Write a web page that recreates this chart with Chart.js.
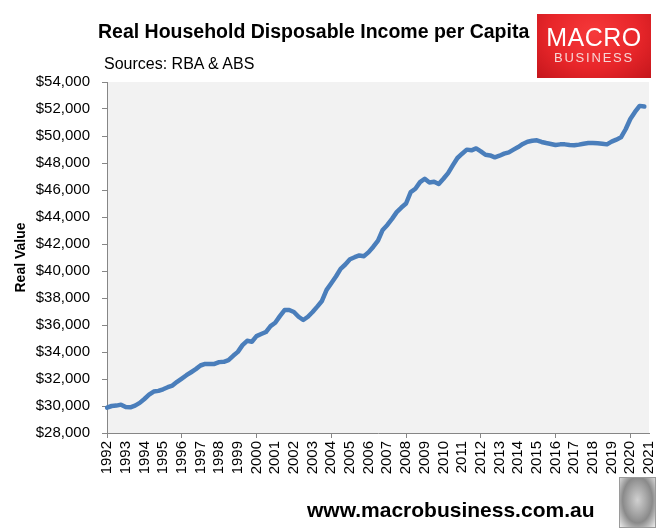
<!DOCTYPE html>
<html>
<head>
<meta charset="utf-8">
<title>Real Household Disposable Income per Capita</title>
<script src="https://cdn.jsdelivr.net/npm/chart.js@4.4.1/dist/chart.umd.min.js"></script>
<style>
  html, body { margin: 0; padding: 0; background: #fff; }
  #wrap { position: relative; width: 672px; height: 529px; overflow: hidden; font-family: "Liberation Sans", Arial, sans-serif; color: #000; }
  #chart { position: absolute; left: 0; top: 0; }
  .txt { position: absolute; white-space: nowrap; }
  #title { left: 98px; top: 22px; font-size: 19.5px; line-height: 19.5px; font-weight: bold; }
  #subtitle { left: 104px; top: 56px; font-size: 16px; line-height: 16px; }
  #footer { left: 307px; top: 499px; font-size: 21px; line-height: 21px; font-weight: bold; }
  #logo {
    position: absolute; left: 537px; top: 14px; width: 114px; height: 64px;
    background: radial-gradient(ellipse at 50% 30%, #f6393a 0%, #e8262a 55%, #c4161c 100%);
    color: #fff; text-align: center;
  }
  #logo .l1 { position: absolute; left: 0; width: 100%; top: 11px; font-family: "Liberation Sans Narrow", "Liberation Sans", sans-serif; font-size: 25px; line-height: 25px; letter-spacing: 0.5px; }
  #logo .l2 { position: absolute; left: 0; width: 100%; top: 37px; font-size: 13px; line-height: 13px; letter-spacing: 1.8px; color: #f7d6d6; }
  #wolf {
    position: absolute; left: 619px; top: 477px; width: 35px; height: 49px;
    border: 1px solid #9a9a9a;
    background: radial-gradient(ellipse at 50% 45%, #d0d0d0 0%, #a8a8a8 35%, #8a8a8a 60%, #ececec 100%);
  }
</style>
</head>
<body>
<div id="wrap">
  <canvas id="chart" width="672" height="529"></canvas>
  <div class="txt" id="title">Real Household Disposable Income per Capita</div>
  <div class="txt" id="subtitle">Sources: RBA &amp; ABS</div>
  <div id="logo"><div class="l1">MACRO</div><div class="l2">BUSINESS</div></div>
  <div class="txt" id="footer">www.macrobusiness.com.au</div>
  <div id="wolf"></div>
</div>
<script>
// years shown on the axis (quarterly data, Mar-1992 .. Dec-2020)
const years = [1992, 1993, 1994, 1995, 1996, 1997, 1998, 1999, 2000, 2001,
               2002, 2003, 2004, 2005, 2006, 2007, 2008, 2009, 2010, 2011,
               2012, 2013, 2014, 2015, 2016, 2017, 2018, 2019, 2020, 2021];
const quarterMonths = ["Mar", "Jun", "Sep", "Dec"];

// real household disposable income per capita, one value per quarter
const incomeValues = [
  29880, 30000, 30030, 30100,   // 1992
  29930, 29900, 30030, 30230,   // 1993
  30520, 30840, 31070, 31120,   // 1994
  31240, 31390, 31510, 31790,   // 1995
  32030, 32280, 32500, 32730,   // 1996
  33000, 33120, 33120, 33120,   // 1997
  33250, 33270, 33400, 33720,   // 1998
  34010, 34510, 34830, 34760,   // 1999
  35180, 35330, 35480, 35920,   // 2000
  36170, 36660, 37110, 37110,   // 2001
  36960, 36610, 36370, 36610,   // 2002
  36960, 37360, 37780, 38600,   // 2003
  39090, 39590, 40160, 40480,   // 2004
  40870, 41020, 41150, 41100,   // 2005
  41400, 41800, 42250, 43040,   // 2006
  43410, 43860, 44360, 44700,   // 2007
  45000, 45840, 46090, 46580,   // 2008
  46830, 46560, 46610, 46440,   // 2009
  46830, 47250, 47820, 48370,   // 2010
  48690, 48990, 48940, 49080,   // 2011
  48860, 48610, 48560, 48420,   // 2012
  48540, 48690, 48790, 48990,   // 2013
  49180, 49410, 49580, 49650,   // 2014
  49680, 49560, 49480, 49410,   // 2015
  49330, 49380, 49380, 49330,   // 2016
  49310, 49360, 49430, 49480,   // 2017
  49480, 49460, 49430, 49380,   // 2018
  49580, 49730, 49900, 50500,   // 2019
  51260, 51780, 52230, 52180    // 2020
];

const Y_MIN = 28000;
const Y_MAX = 54000;
const Y_STEP = 2000;

const AXIS_COLOR = "#868686";
const LINE_COLOR = "#4a7ebb";
const FONT = "'Liberation Sans', Arial, sans-serif";

// quarter labels, axis runs to Mar-2021
const quarterLabels = [];
years.forEach(y => {
    quarterMonths.forEach(m => {
        if (y < 2021 || m === "Mar") quarterLabels.push(m + "-" + y);
    });
});

function fmtDollar(v) {
    return "$" + String(v).replace(/\B(?=(\d{3})+(?!\d))/g, ",");
}

// grey plot area
const plotBg = {
    id: "plotBg",
    beforeDraw(chart) {
        const { ctx, chartArea: a } = chart;
        ctx.save();
        ctx.fillStyle = "#f2f2f2";
        ctx.fillRect(a.left, a.top, a.right - a.left, a.bottom - a.top);
        ctx.restore();
    }
};

const isYearTick = ctx => ctx.index % 4 === 0;

new Chart(document.getElementById("chart"), {
    type: "line",
    data: {
        labels: quarterLabels,
        datasets: [{
            data: incomeValues,
            borderColor: LINE_COLOR,
            borderWidth: 4.5,
            borderJoinStyle: "round",
            borderCapStyle: "round",
            pointRadius: 0,
            tension: 0,
            fill: false
        }]
    },
    options: {
        responsive: false,
        animation: false,
        layout: { padding: { left: 0, top: 82, right: 23, bottom: 0 } },
        plugins: {
            legend: { display: false },
            tooltip: { enabled: false }
        },
        scales: {
            x: {
                type: "category",
                offset: false,
                grid: {
                    drawOnChartArea: false,
                    drawTicks: true,
                    tickLength: 5,
                    color: ctx => isYearTick(ctx) ? AXIS_COLOR : "rgba(0,0,0,0)",
                    tickColor: ctx => isYearTick(ctx) ? AXIS_COLOR : "rgba(0,0,0,0)"
                },
                border: { display: true, color: AXIS_COLOR, width: 1 },
                ticks: {
                    autoSkip: false,
                    minRotation: 90,
                    maxRotation: 90,
                    padding: 3,
                    color: "#000",
                    font: { family: FONT, size: 15 },
                    callback: function (val, idx) {
                        const l = this.getLabelForValue(val);
                        return l.startsWith("Mar") ? l.slice(4) : null;
                    }
                },
                afterFit(scale) { scale.height = 96; }
            },
            y: {
                min: Y_MIN,
                max: Y_MAX,
                grid: {
                    drawOnChartArea: false,
                    drawTicks: true,
                    tickLength: 5,
                    color: AXIS_COLOR
                },
                border: { display: true, color: AXIS_COLOR, width: 1 },
                ticks: {
                    stepSize: Y_STEP,
                    padding: 12,
                    color: "#000",
                    font: { family: FONT, size: 15 },
                    callback: v => fmtDollar(v)
                },
                title: {
                    display: true,
                    text: "Real Value",
                    color: "#000",
                    font: { family: FONT, size: 14, weight: "bold" },
                    padding: { top: 13, bottom: 0 }
                },
                afterFit(scale) { scale.width = 107; }
            }
        }
    },
    plugins: [plotBg]
});
</script>
</body>
</html>
